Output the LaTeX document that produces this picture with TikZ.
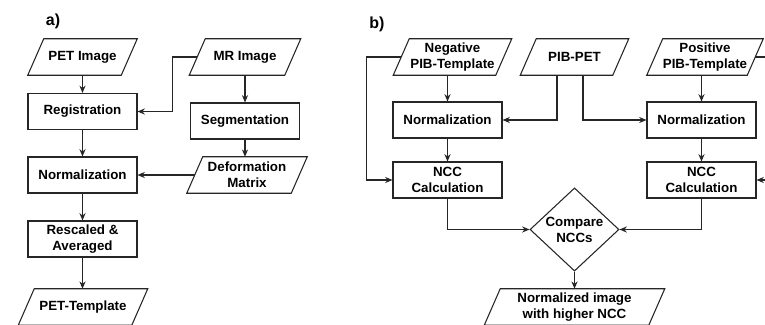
\documentclass[tikz,border=0pt]{standalone}
\usepackage{fontspec}
\setmainfont{Liberation Sans}
\usetikzlibrary{shapes.geometric,arrows.meta,calc}
\newcommand\iopara[1]{%
  \draw[ln] ($(#1.south west)+(-8,0)$) -- ($(#1.south east)+(-8,0)$) -- ($(#1.north east)+(8,0)$) -- ($(#1.north west)+(8,0)$) -- cycle;}
\tikzset{
  txt/.style={font=\fontsize{10}{12}\selectfont\bfseries, align=center, inner sep=1pt},
  ln/.style={draw=black!85, line width=0.8pt},
  arr/.style={ln, -{Stealth[length=5.5pt,width=4.6pt]}},
  proc/.style={txt, ln, minimum width=81.75pt, minimum height=27pt},
  io/.style={txt, minimum height=27pt},
  lab/.style={font=\fontsize{12}{13}\selectfont\bfseries, inner sep=0pt}
}
\begin{document}
\begin{tikzpicture}[x=0.75pt,y=-0.75pt]
\clip (0,0) rectangle (765,325);
\useasboundingbox (0,0) rectangle (765,325);
% panel a
\node[lab] (la) at (53,21) {a)};
\node[io, minimum width=69.75pt] (pet) at (82.5,57) {PET Image};
\node[io, minimum width=71.25pt] (mr) at (245,57) {MR Image};
\node[proc] (reg) at (82.5,111.5) {Registration};
\node[proc] (seg) at (245,121) {Segmentation};
\node[proc] (norm) at (82.5,175) {Normalization};
\node[io, minimum width=78pt] (def) at (247,175) {Deformation\\Matrix};
\node[proc] (resc) at (82.5,239) {Rescaled \&\\Averaged};
\node[io, minimum width=84.75pt] (pett) at (83,307) {PET-Template};
\iopara{pet}\iopara{mr}\iopara{def}\iopara{pett}
\draw[arr] (pet.south -| reg.north) -- (reg.north);
\draw[arr] (mr.west) -- ++(-24.5,0) |- (reg.east);
\draw[arr] (mr.south) -- (seg.north);
\draw[arr] (seg.south) -- (seg.south |- def.north);
\draw[arr] (reg.south) -- (norm.north);
\draw[arr] (def.west) -- (norm.east);
\draw[arr] (norm.south) -- (resc.north);
\draw[arr] (resc.south) -- (resc.south |- pett.north);
% panel b
\node[lab] (lb) at (377,24) {b)};
\node[io, minimum width=76.5pt] (neg) at (452.5,57) {Negative\\PIB-Template};
\node[io, minimum width=69pt] (pib) at (574.5,57) {PIB-PET};
\node[io, minimum width=75pt] (pos) at (705,57) {Positive\\PIB-Template};
\node[proc] (norma) at (447.5,120) {Normalization};
\node[proc] (normb) at (701.5,120) {Normalization};
\node[proc] (ncca) at (447.5,180) {NCC\\Calculation};
\node[proc] (nccb) at (701.5,180) {NCC\\Calculation};
\node[txt, ln, diamond, minimum width=66.75pt, minimum height=60.75pt, inner sep=0pt] (cmp) at (574.5,229.5) {Compare\\NCCs};
\node[io, minimum width=123pt] (out) at (574.5,307) {Normalized image\\with higher NCC};
\iopara{neg}\iopara{pib}\iopara{pos}\iopara{out}
\draw[arr] (norma.north |- neg.south) -- (norma.north);
\draw[arr] (neg.west) -- ++(-34.5,0) |- (ncca.west);
\draw[arr] ($(pib.south)+(-17.5,0)$) |- (norma.east);
\draw[arr] ($(pib.south)+(8.5,0)$) |- (normb.west);
\draw[arr] (normb.north |- pos.south) -- (normb.north);
\draw[arr] (pos.east) -- ++(20,0) |- (nccb.east);
\draw[arr] (norma.south) -- (ncca.north);
\draw[arr] (normb.south) -- (nccb.north);
\draw[arr] (ncca.south) |- (cmp.west);
\draw[arr] (nccb.south) |- (cmp.east);
\draw[arr] (cmp.south) -- (out.north);
\end{tikzpicture}
\end{document}
